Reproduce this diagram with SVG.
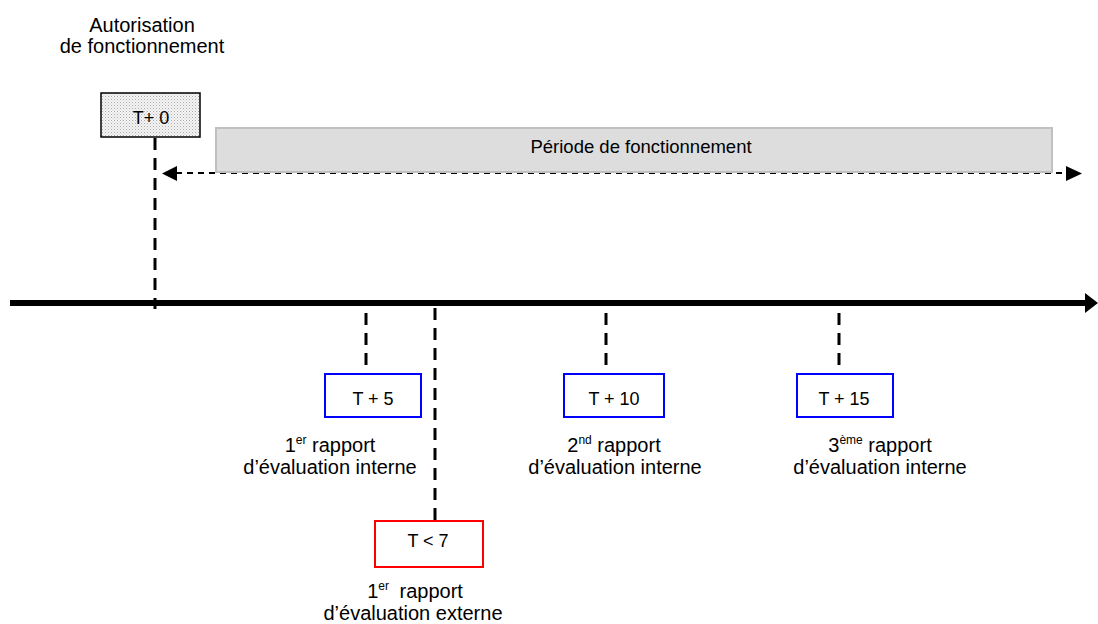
<svg xmlns="http://www.w3.org/2000/svg" width="1098" height="624" viewBox="0 0 1098 624">
<style>
  text { font-family: "Liberation Sans", Arial, sans-serif; fill: #000; }
  .lbl { font-size: 20px; text-anchor: middle; }
  .box-t { font-size: 18px; text-anchor: middle; }
  .sup { font-size: 12px; }
  .vdash { stroke: #000; stroke-width: 3; stroke-dasharray: 12 8; fill: none; }
  .blue { fill: #fff; stroke: #0000ff; stroke-width: 2; }
  .red { fill: #fff; stroke: #ff0000; stroke-width: 2; }
</style>
<defs>
  <pattern id="dots" width="3" height="3" patternUnits="userSpaceOnUse">
    <rect width="3" height="3" fill="#f4f4f4"/>
    <rect x="0" y="0" width="1" height="1" fill="#aaaaaa"/>
    <rect x="1.5" y="1.5" width="1" height="1" fill="#c8c8c8"/>
  </pattern>
</defs>

<g id="connectors">
  <!-- main axis -->
  <line x1="10" y1="303" x2="1086" y2="303" stroke="#000" stroke-width="6"/>
  <polygon points="1085,293 1098,303 1085,313" fill="#000"/>
  <!-- period double arrow -->
  <line x1="176" y1="173" x2="1067" y2="173" stroke="#000" stroke-width="1.8" stroke-dasharray="6 5"/>
  <polygon points="177,166 162,173.5 177,181" fill="#000"/>
  <polygon points="1066,166 1082,173.5 1066,181" fill="#000"/>
  <!-- vertical dashed ticks -->
  <line class="vdash" x1="155" y1="138" x2="155" y2="309"/>
  <line class="vdash" x1="366" y1="313" x2="366" y2="374"/>
  <line class="vdash" x1="435" y1="308" x2="435" y2="521"/>
  <line class="vdash" x1="606" y1="313" x2="606" y2="374"/>
  <line class="vdash" x1="839" y1="313" x2="839" y2="374"/>
</g>

<g id="autorisation">
  <text class="lbl" x="142" y="32">Autorisation</text>
  <text class="lbl" x="142" y="53">de fonctionnement</text>
</g>

<g id="t0">
  <rect x="101" y="93" width="99" height="44" fill="url(#dots)" stroke="#000" stroke-width="1.5"/>
  <text class="box-t" x="151" y="124">T+ 0</text>
</g>

<g id="periode">
  <rect x="216" y="128" width="836" height="44" fill="#dddddd" stroke="#c0c0c0" stroke-width="2"/>
  <text x="641" y="153" style="font-size:18.5px;text-anchor:middle">Période de fonctionnement</text>
</g>

<g id="t5">
  <rect class="blue" x="325" y="374" width="96" height="43"/>
  <text class="box-t" x="373" y="405">T + 5</text>
  <text class="lbl" x="330" y="452">1<tspan class="sup" dy="-8">er</tspan><tspan dy="8"> rapport</tspan></text>
  <text class="lbl" x="330" y="474">d’évaluation interne</text>
</g>

<g id="t7">
  <rect class="red" x="375" y="521" width="108" height="46"/>
  <text class="box-t" x="428" y="547">T &lt; 7</text>
  <text class="lbl" x="415" y="598">1<tspan class="sup" dy="-8">er</tspan><tspan dy="8" dx="5"> rapport</tspan></text>
  <text class="lbl" x="413" y="620">d’évaluation externe</text>
</g>

<g id="t10">
  <rect class="blue" x="564" y="374" width="100" height="43"/>
  <text class="box-t" x="614" y="405">T + 10</text>
  <text class="lbl" x="614" y="452">2<tspan class="sup" dy="-8">nd</tspan><tspan dy="8"> rapport</tspan></text>
  <text class="lbl" x="615" y="474">d’évaluation interne</text>
</g>

<g id="t15">
  <rect class="blue" x="797" y="374" width="96" height="43"/>
  <text class="box-t" x="844" y="405">T + 15</text>
  <text class="lbl" x="880" y="452">3<tspan class="sup" dy="-8">ème</tspan><tspan dy="8"> rapport</tspan></text>
  <text class="lbl" x="880" y="474">d’évaluation interne</text>
</g>
</svg>
